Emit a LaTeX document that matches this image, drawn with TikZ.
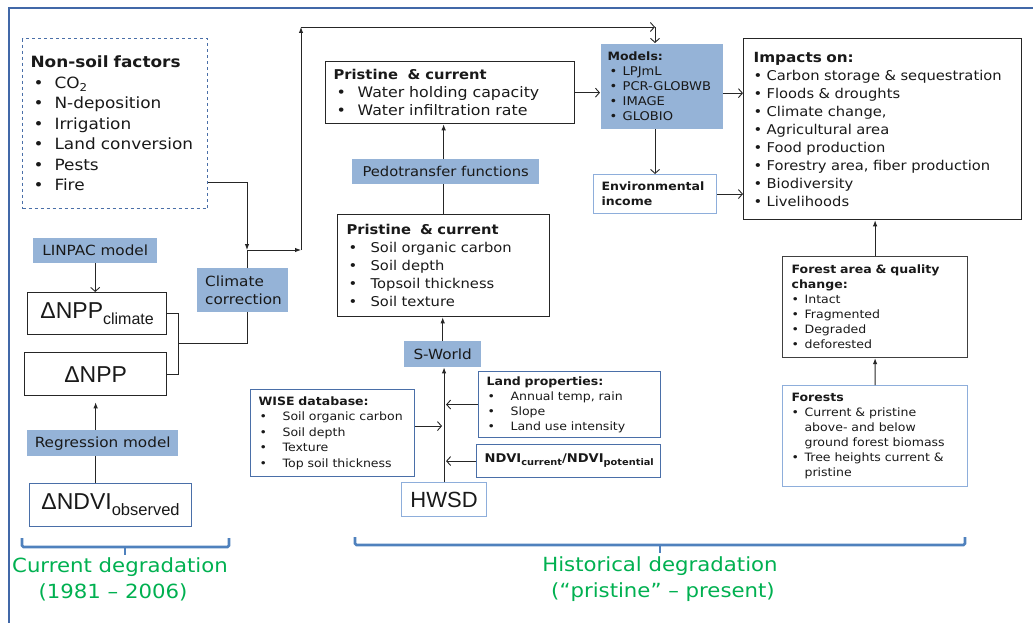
\documentclass[tikz,border=0pt]{standalone}
\usepackage{fontspec}
\setmainfont{DejaVu Sans}[FakeStretch=1.09]
\newfontfamily\arialish{Liberation Sans}
\usetikzlibrary{arrows.meta}
\definecolor{modelblue}{HTML}{95B3D7}
\definecolor{edgeblue}{HTML}{4A6FA8}
\definecolor{liteblue}{HTML}{8EAEDB}
\definecolor{frameblue}{HTML}{4168A8}
\definecolor{braceblue}{HTML}{4F81BD}
\definecolor{eragreen}{HTML}{00B050}
\newcommand{\fz}[2]{\fontsize{#1pt}{#2pt}\selectfont}
\newcommand{\bl}[1]{\makebox[#1][l]{\textbullet}}
\newcommand{\lowsub}[3]{\raisebox{-#1pt}{\fz{#2}{#2}#3}}

\begin{document}
\begin{tikzpicture}[x=1pt,y=-1pt,
  box/.style={draw=black!85,line width=1.3pt,anchor=north west,align=left,inner xsep=8pt,inner ysep=0pt,text=black!90},
  edgebox/.style={box,draw=edgeblue,line width=1.1pt},
  litebox/.style={box,draw=liteblue,line width=1.1pt},
  fillbox/.style={fill=modelblue,anchor=north west,align=center,inner sep=0pt,text=black!90},
  fa/.style={-{Latex[length=6pt,width=4.5pt]}},
  oa/.style={-{Straight Barb[length=4pt,width=9pt]}},
  link/.style={line width=0.9pt,draw=black!85},
  span/.style={draw=braceblue,line width=2.6pt,rounded corners=1.5pt},
  era/.style={text=eragreen,align=center,font=\fz{19.5}{26}}]
\useasboundingbox (0,0) rectangle (1033,623);
\draw[draw=frameblue,line width=2pt] (9,625) -- (9,8) -- (1035,8);

% current degradation (left column)
\node[box,draw=edgeblue,dashed,line width=1.1pt,text width=169pt,minimum height=170pt,font=\fz{15.5}{20.5}] (nonsoil) at (22,38)
  {{\bfseries Non-soil factors}\\
   \hspace*{3pt}\bl{21pt}CO\textsubscript{2}\\
   \hspace*{3pt}\bl{21pt}N-deposition\\
   \hspace*{3pt}\bl{21pt}Irrigation\\
   \hspace*{3pt}\bl{21pt}Land conversion\\
   \hspace*{3pt}\bl{21pt}Pests\\
   \hspace*{3pt}\bl{21pt}Fire};
\node[fillbox,minimum width=124pt,minimum height=25pt,font=\fz{14}{18}] (linpac) at (33,238) {LINPAC model};
\node[box,align=center,inner xsep=0pt,minimum width=139pt,minimum height=42pt,font=\arialish\fz{23}{26}] (nppc) at (27,292) {ΔNPP\lowsub{6}{16}{climate}};
\node[box,align=center,inner xsep=0pt,minimum width=142pt,minimum height=43pt,font=\arialish\fz{23}{26}] (npp) at (24,352) {ΔNPP};
\node[fillbox,minimum width=151pt,minimum height=26pt,font=\fz{14}{18}] (regr) at (27,430) {Regression model};
\node[edgebox,align=center,inner xsep=0pt,minimum width=162pt,minimum height=43pt,font=\arialish\fz{23}{26}] (ndvi) at (29,483) {ΔNDVI\lowsub{6}{16.5}{observed}};
\node[fillbox,align=left,inner xsep=8pt,text width=75pt,minimum height=44pt,font=\fz{14}{18}] (clim) at (197,268) {Climate\\correction};

% historical degradation (soil column)
\node[box,text width=233pt,minimum height=62pt,font=\fz{14.5}{18}] (wat) at (325,61)
  {{\fz{13.5}{18}\bfseries Pristine \ \& current}\\
   \hspace*{3pt}\bl{21pt}Water holding capacity\\
   \hspace*{3pt}\bl{21pt}Water infiltration rate};
\node[fillbox,minimum width=187pt,minimum height=25pt,font=\fz{13.5}{18}] (pedo) at (352,159) {Pedotransfer functions};
\node[box,inner xsep=9pt,text width=194pt,minimum height=102pt,font=\fz{13.5}{18}] (soil) at (337,214)
  {{\bfseries Pristine \ \& current}\\
   \hspace*{2pt}\bl{22pt}Soil organic carbon\\
   \hspace*{2pt}\bl{22pt}Soil depth\\
   \hspace*{2pt}\bl{22pt}Topsoil thickness\\
   \hspace*{2pt}\bl{22pt}Soil texture};
\node[fillbox,minimum width=77pt,minimum height=26pt,font=\fz{14}{18}] (sworld) at (404,341) {S-World};
\node[edgebox,text width=148pt,minimum height=87pt,font=\fz{11.5}{15.5}] (wise) at (250,389)
  {{\bfseries WISE database:}\\
   \hspace*{1pt}\bl{23pt}Soil organic carbon\\
   \hspace*{1pt}\bl{23pt}Soil depth\\
   \hspace*{1pt}\bl{23pt}Texture\\
   \hspace*{1pt}\bl{23pt}Top soil thickness};
\node[edgebox,text width=166pt,minimum height=66pt,font=\fz{11.5}{15}] (land) at (478,371)
  {{\bfseries Land properties:}\\
   \hspace*{1pt}\bl{23pt}Annual temp, rain\\
   \hspace*{1pt}\bl{23pt}Slope\\
   \hspace*{1pt}\bl{23pt}Land use intensity};
\node[edgebox,text width=168pt,minimum height=33pt,font=\fz{12}{15}\bfseries] (ndvir) at (476,444)
  {NDVI\lowsub{3}{9}{current}/NDVI\lowsub{3}{9}{potential}};
\node[litebox,align=center,inner xsep=0pt,minimum width=85pt,minimum height=34pt,font=\arialish\fz{22}{24}] (hwsd) at (401,482) {HWSD};

% models and impacts
\node[box,draw=none,fill=modelblue,inner xsep=7pt,text width=108pt,minimum height=85pt,font=\fz{12}{15}] (models) at (600,43)
  {{\fz{11.5}{15}\bfseries Models:}\\
   \hspace*{2pt}\bl{13pt}LPJmL\\
   \hspace*{2pt}\bl{13pt}PCR-GLOBWB\\
   \hspace*{2pt}\bl{13pt}IMAGE\\
   \hspace*{2pt}\bl{13pt}GLOBIO};
\node[litebox,text width=107pt,minimum height=39pt,font=\fz{11.5}{15}\bfseries] (envinc) at (593,174) {Environmental\\income};
\node[box,inner xsep=10pt,text width=258pt,minimum height=181pt,font=\fz{13.5}{18}] (impacts) at (743,38)
  {{\fz{14}{19}\bfseries Impacts on:}\\
   \bl{13pt}Carbon storage \& sequestration\\
   \bl{13pt}Floods \& droughts\\
   \bl{13pt}Climate change,\\
   \bl{13pt}Agricultural area\\
   \bl{13pt}Food production\\
   \bl{13pt}Forestry area, fiber production\\
   \bl{13pt}Biodiversity\\
   \bl{13pt}Livelihoods};
\node[box,draw=black!75,line width=1.2pt,inner xsep=9pt,text width=167pt,minimum height=101pt,font=\fz{11.5}{15}] (farea) at (782,256)
  {{\bfseries Forest area \& quality}\\
   {\bfseries change:}\\
   \bl{13pt}Intact\\
   \bl{13pt}Fragmented\\
   \bl{13pt}Degraded\\
   \bl{13pt}deforested};
\node[litebox,inner xsep=9pt,text width=167pt,minimum height=101pt,font=\fz{11.5}{15}] (forests) at (782,385)
  {{\bfseries Forests}\\
   \bl{13pt}Current \& pristine\\
   \hspace*{13pt}above- and below\\
   \hspace*{13pt}ground forest biomass\\
   \bl{13pt}Tree heights current \&\\
   \hspace*{13pt}pristine};

% junctions
\coordinate (jn) at (247,250);
\coordinate (jr) at (301,250);
\coordinate (jt) at (301,27);
\coordinate (tr) at (655,27);
\coordinate (bk) at (182,343);

% connectors
\draw[link,fa] ([yshift=-59pt]nonsoil.east) -| (jn);
\draw[link] (clim.north -| jn) -- (jn);
\draw[link,fa] (jn) -- (jr);
\draw[link,fa] (jr) -- (jt);
\draw[link,oa] (jt) -- (tr);
\draw[link,oa] (tr) -- (tr |- models.north);
\draw[link] (nppc.east) -| ([xshift=-4pt]bk) -- (bk);
\draw[link] (npp.east) -| ([xshift=-4pt]bk);
\draw[link] (bk) -| (clim.south -| jn);
\draw[link,oa] (linpac.south) -- (linpac.south |- nppc.north);
\draw[link,fa,shorten >=6pt] (npp.south |- regr.north) -- (npp.south);
\draw[link] (npp.south |- ndvi.north) -- (npp.south |- regr.south);

\draw[link,fa] (hwsd.north) -- (hwsd.north |- sworld.south);
\draw[link,oa,shorten >=2pt] ([yshift=7pt]wise.east) -- ([yshift=7pt]wise.east -| hwsd.north);
\draw[link,oa,shorten >=2pt] (land.west) -- (land.west -| hwsd.north);
\draw[link,oa,shorten >=2pt] (ndvir.west) -- (ndvir.west -| hwsd.north);
\draw[link,fa] (sworld.north) -- (sworld.north |- soil.south);
\draw[link] (soil.north) -- (soil.north |- pedo.south);
\draw[link,fa] (soil.north |- pedo.north) -- (soil.north |- wat.south);
\draw[link,oa] (wat.east) -- (wat.east -| models.west);
\draw[link,oa] ([yshift=-7pt]models.east) -- ([yshift=-7pt]models.east -| impacts.west);
\draw[link,oa] (envinc.north |- models.south) -- (envinc.north);
\draw[link,oa] (envinc.east) -- (envinc.east -| impacts.west);
\draw[link,fa] (farea.north) -- (farea.north |- impacts.south);
\draw[link,fa] (forests.north) -- (farea.south);

% spans
\draw[span] (22,538) |- (229,547) -- (229,538);
\draw[span] (125,547) -- (125,555);
\draw[span] (355,537) |- (965,545) -- (965,537);
\draw[span] (660,545) -- (660,553);
\node[era] (curlab) at (120,579) {Current degradation\\(1981 – 2006)\hspace*{14pt}};
\node[era] (histlab) at (660,579) {Historical degradation\\\hspace*{6pt}(“pristine” – present)};
\end{tikzpicture}
\end{document}
